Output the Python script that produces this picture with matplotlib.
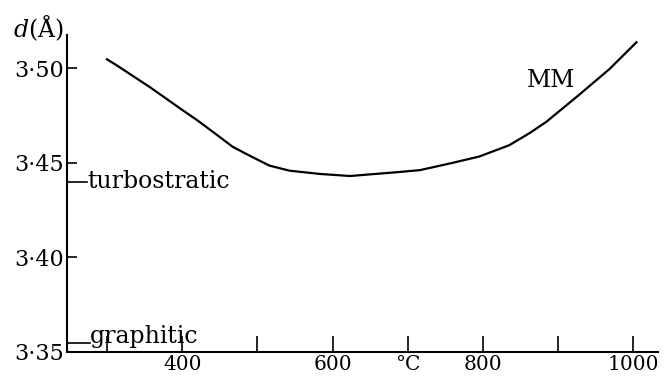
import matplotlib
matplotlib.use("Agg")
from matplotlib import pyplot as plt

# interlayer spacing d (Å) vs heat-treatment temperature
temps = [300, 313, 357, 397, 420, 441, 467, 486, 516, 543, 583, 623,
         685, 716, 760, 795, 835, 862, 884, 928, 968, 1004]
spacing = [3.5047, 3.5015, 3.490, 3.4788, 3.4725, 3.4663, 3.4585, 3.4545,
           3.4485, 3.4458, 3.4441, 3.443, 3.445, 3.4461, 3.450, 3.4533,
           3.4593, 3.4657, 3.4716, 3.486, 3.4995, 3.5137]

x_ticks = [300, 400, 500, 600, 700, 800, 900, 1000]
x_labels = ["", "400", "", "600", "°C", "800", "", "1000"]
y_ticks = [3.35, 3.40, 3.45, 3.50]
y_labels = ["3·35", "3·40", "3·45", "3·50"]

turbostratic_d = 3.44
graphitic_d = 3.3548

plt.rcParams["font.family"] = ["DejaVu Serif"]
plt.rcParams["mathtext.fontset"] = "dejavuserif"

fig = plt.figure(figsize=(6.65, 3.78), dpi=100)
ax = fig.add_axes([0.1008, 0.0688, 0.888, 0.838])

ax.plot(temps, spacing, color="black", linewidth=1.6)

ax.set_xlim(247, 1032)
ax.set_ylim(3.35, 3.5174)

for side in ("top", "right"):
    ax.spines[side].set_visible(False)
for side in ("left", "bottom"):
    ax.spines[side].set_linewidth(1.5)

ax.set_xticks(x_ticks)
ax.set_xticklabels(x_labels, fontsize=14.5)
ax.set_yticks(y_ticks)
ax.set_yticklabels(y_labels, fontsize=16)
ax.tick_params(axis="x", direction="in", length=11.5, width=1.2, pad=2)
ax.tick_params(axis="y", direction="in", length=7, width=1.2, pad=2)

# reference levels
ax.plot([247, 273], [turbostratic_d, turbostratic_d], color="black", linewidth=1.2,
        clip_on=False)
ax.text(274, turbostratic_d, "turbostratic", fontsize=17, ha="left", va="center")
ax.plot([247, 277], [graphitic_d, graphitic_d], color="black", linewidth=1.2,
        clip_on=False)
ax.text(278, graphitic_d, "graphitic", fontsize=17, ha="left", va="baseline")

ax.text(891, 3.4936, "MM", fontsize=17, ha="center", va="center")
fig.text(0.057, 0.926, r"$d$(Å)", fontsize=17, ha="center", va="center")

fig.savefig("out.png", dpi=100)
